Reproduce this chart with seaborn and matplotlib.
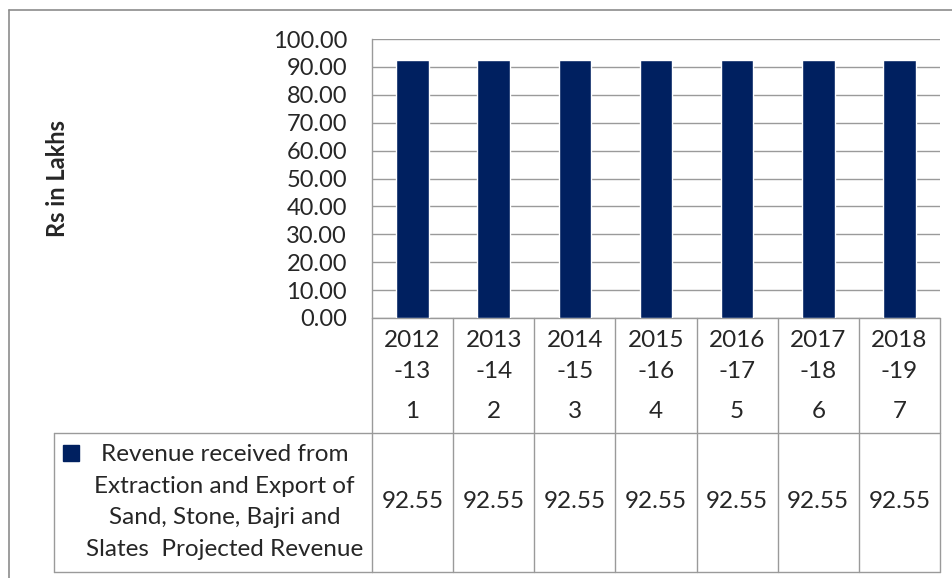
import matplotlib
matplotlib.use("Agg")
import matplotlib.pyplot as plt
import matplotlib.transforms as mtransforms
import seaborn as sns
import pandas as pd

# Data
years = ["2012\n-13", "2013\n-14", "2014\n-15", "2015\n-16", "2016\n-17", "2017\n-18", "2018\n-19"]
serials = ["1", "2", "3", "4", "5", "6", "7"]
revenue = [92.55, 92.55, 92.55, 92.55, 92.55, 92.55, 92.55]
series_name = ("Revenue received from\nExtraction and Export of\n"
               "Sand, Stone, Bajri and\nSlates  Projected Revenue")
y_ticks = [0, 10, 20, 30, 40, 50, 60, 70, 80, 90, 100]

sns.set_style("white")
plt.rcParams["font.family"] = ["Lato", "DejaVu Sans"]

BAR = "#002060"
GRID = "#9a9a9a"
FS = 17.5

W, H = 953, 578
fig = plt.figure(figsize=(W / 100, H / 100), dpi=100)

# Overlay in pixel coordinates for the frame and data table
ov = fig.add_axes([0, 0, 1, 1], zorder=0)
ov.set_xlim(0, W)
ov.set_ylim(H, 0)
ov.axis("off")

# Plot area
px_l, px_r, px_t, px_b = 372, 940, 39, 318
ax = fig.add_axes([px_l / W, (H - px_b) / H, (px_r - px_l) / W, (px_b - px_t) / H], zorder=1)
ax.patch.set_alpha(0)

df = pd.DataFrame({"year": years, "revenue": revenue})
sns.barplot(data=df, x="year", y="revenue", color=BAR, width=0.4,
            saturation=1, ax=ax, zorder=3)

ax.set_xlim(-0.5, len(years) - 0.5)
ax.set_ylim(0, 100)
ax.set_yticks(y_ticks)
ax.set_yticklabels([f"{v:.2f}" for v in y_ticks], fontsize=17)
ax.tick_params(axis="y", length=0, pad=18)
ax.set_xticks([])
ax.set_xlabel("")
ax.set_ylabel("")
ax.yaxis.grid(True, color=GRID, linewidth=1.0, zorder=0)
ax.set_axisbelow(True)
for side in ["top", "right", "bottom"]:
    ax.spines[side].set_visible(False)
ax.spines["left"].set_color(GRID)
ax.spines["left"].set_linewidth(1.0)

# Axis title
fig.text(58 / W, 1 - 178 / H, "Rs in Lakhs", rotation=90, fontsize=17,
         fontweight="bold", ha="center", va="center")

# Outer chart border
ov.plot([9, 9], [10, H], color="#8c8c8c", lw=1.2)
ov.plot([9, W], [10, 10], color="#8c8c8c", lw=1.2)

# Data table: x from the category scale, y in pixels
tr = mtransforms.blended_transform_factory(ax.transData, ov.transData)
n = len(years)
row_top, row_mid, row_bot = px_b, 433, 572
lkw = dict(color=GRID, lw=1.0, transform=tr, clip_on=False)
ov.plot([-0.5, n - 0.5], [row_top, row_top], **lkw)
ov.plot([-0.5, n - 0.5], [row_bot, row_bot], **lkw)
ov.plot([-0.5, n - 0.5], [row_mid, row_mid], **lkw)
for i in range(n + 1):
    ov.plot([i - 0.5, i - 0.5], [row_top, row_bot], **lkw)

# Legend cell
ov.plot([54, px_l], [row_mid, row_mid], color=GRID, lw=1.0)
ov.plot([54, px_l], [row_bot, row_bot], color=GRID, lw=1.0)
ov.plot([54, 54], [row_mid, row_bot], color=GRID, lw=1.0)
ov.add_patch(plt.Rectangle((63, 445), 16, 16, color=BAR))
ov.text(224.5, 502, series_name, fontsize=FS, ha="center", va="center",
        multialignment="center", linespacing=1.63)

for i, (yr, sn, v) in enumerate(zip(years, serials, revenue)):
    ov.text(i, 356, yr, fontsize=FS, ha="center", va="center",
            linespacing=1.56, transform=tr)
    ov.text(i, 411, sn, fontsize=FS, ha="center", va="center", transform=tr)
    ov.text(i, 502, f"{v:.2f}", fontsize=FS, ha="center", va="center", transform=tr)

fig.savefig("out.png", dpi=100)
